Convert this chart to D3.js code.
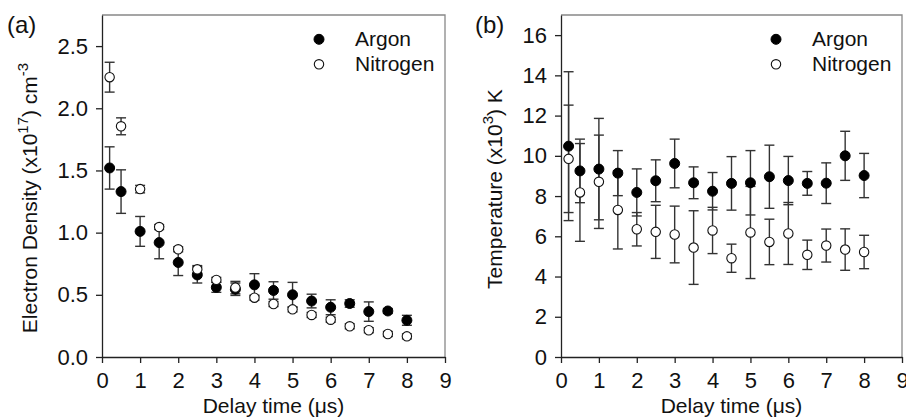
<!DOCTYPE html>
<html>
<head>
<meta charset="utf-8">
<script src="https://cdn.jsdelivr.net/npm/d3@7"></script>
<style>
  body { margin: 0; background: #fff; }
  svg { font-family: "Liberation Sans", Arial, sans-serif; }
  .axis path, .axis line { stroke: #222; stroke-width: 1.3; }
  .axis text { font-size: 22px; fill: #111; }
  .frame { stroke: #888; stroke-width: 1.3; fill: none; }
  .errbar { stroke: #333; stroke-width: 1.4; }
  .argon { fill: #000; stroke: #000; stroke-width: 1; }
  .nitrogen { fill: #fff; stroke: #111; stroke-width: 1.1; }
  .label { font-size: 21px; fill: #111; }
  .legend { font-size: 21px; fill: #111; }
  .panel { font-size: 24px; fill: #111; }
</style>
</head>
<body>
<svg width="906" height="418"></svg>
<script>
// delay times (us)
var delay = [0.2, 0.5, 1, 1.5, 2, 2.5, 3, 3.5, 4, 4.5, 5, 5.5, 6, 6.5, 7, 7.5, 8];

// (a) electron density, x10^17 cm^-3
var densityArgon     = [1.52, 1.33, 1.01, 0.92, 0.76, 0.66, 0.56, 0.545, 0.58, 0.535, 0.50, 0.45, 0.40, 0.43, 0.365, 0.37, 0.295];
var densityArgonErr  = [0.17, 0.175, 0.12, 0.13, 0.105, 0.065, 0.04, 0.05, 0.09, 0.07, 0.10, 0.055, 0.06, 0.03, 0.078, 0.02, 0.04];
var densityNitrogen    = [2.25, 1.855, 1.35, 1.045, 0.866, 0.705, 0.62, 0.558, 0.477, 0.426, 0.383, 0.338, 0.30, 0.247, 0.215, 0.185, 0.166];
var densityNitrogenErr = [0.12, 0.068, 0.03, 0.02, 0.02, 0.03, 0.02, 0.05, 0.02, 0.02, 0.02, 0.02, 0.02, 0.02, 0.02, 0.02, 0.02];

// (b) temperature, x10^3 K
var tempArgon     = [10.48, 9.25, 9.34, 9.14, 8.18, 8.76, 9.62, 8.66, 8.24, 8.63, 8.66, 8.96, 8.77, 8.63, 8.64, 10.0, 9.02];
var tempArgonErr  = [3.7, 1.58, 2.52, 1.12, 1.17, 1.04, 1.21, 0.79, 0.93, 1.33, 1.6, 1.57, 1.2, 0.59, 1.01, 1.22, 1.1];
var tempNitrogen    = [9.85, 8.18, 8.71, 7.31, 6.35, 6.22, 6.09, 5.44, 6.29, 4.91, 6.19, 5.72, 6.14, 5.08, 5.54, 5.34, 5.22];
var tempNitrogenErr = [2.67, 2.43, 2.32, 1.94, 0.83, 1.32, 1.41, 1.83, 1.15, 0.7, 2.29, 1.13, 1.54, 0.73, 0.82, 1.03, 0.83];

var xTicks = [0, 1, 2, 3, 4, 5, 6, 7, 8, 9];
var densityTicks = [0, 0.5, 1.0, 1.5, 2.0, 2.5];
var tempTicks = [0, 2, 4, 6, 8, 10, 12, 14, 16];
var seriesNames = ["Argon", "Nitrogen"];

var svg = d3.select("svg");

function drawPanel(p) {
    var g = svg.append("g").attr("transform", "translate(" + p.left + ",15)");
    var width = p.width, height = 342;

    var xScale = d3.scaleLinear().domain([0, 9]).range([0, width]);
    var yScale = d3.scaleLinear().domain(p.yDomain).range([height, 0]);

    // frame top/right
    g.append("path").attr("class", "frame")
        .attr("d", "M0,0H" + width + "V" + height);

    g.append("g").attr("class", "axis")
        .attr("transform", "translate(0," + height + ")")
        .call(d3.axisBottom(xScale).tickValues(xTicks).tickSize(6).tickSizeOuter(0).tickPadding(8))
        .call(a => a.selectAll("text").attr("dy", "0.75em"));

    g.append("g").attr("class", "axis")
        .call(d3.axisLeft(yScale).tickValues(p.yTicks).tickFormat(p.yFormat).tickSize(6).tickSizeOuter(0).tickPadding(8));

    var series = [
        {name: "Argon", cls: "argon", v: p.argon, e: p.argonErr},
        {name: "Nitrogen", cls: "nitrogen", v: p.nitrogen, e: p.nitrogenErr}
    ];

    // error bars
    series.forEach(function(s) {
        var bars = g.append("g").selectAll(".eb")
            .data(delay.map((d, i) => ({x: d, y: s.v[i], e: s.e[i]})))
            .enter().append("g");
        bars.append("line").attr("class", "errbar")
            .attr("x1", d => xScale(d.x)).attr("x2", d => xScale(d.x))
            .attr("y1", d => yScale(d.y - d.e)).attr("y2", d => yScale(d.y + d.e));
        [-1, 1].forEach(function(sign) {
            bars.append("line").attr("class", "errbar")
                .attr("x1", d => xScale(d.x) - 5).attr("x2", d => xScale(d.x) + 5)
                .attr("y1", d => yScale(d.y + sign * d.e)).attr("y2", d => yScale(d.y + sign * d.e));
        });
    });

    series.forEach(function(s) {
        g.append("g").selectAll("circle")
            .data(delay.map((d, i) => ({x: d, y: s.v[i]})))
            .enter().append("circle")
            .attr("class", s.cls)
            .attr("cx", d => xScale(d.x))
            .attr("cy", d => yScale(d.y))
            .attr("r", s.cls === "argon" ? 5 : 4.7);
    });

    // legend
    var leg = g.append("g").attr("transform", "translate(" + (width - 126) + ",24.3)");
    series.forEach(function(s, i) {
        leg.append("circle").attr("class", s.cls)
            .attr("cx", 0).attr("cy", i * 25).attr("r", s.cls === "argon" ? 5 : 4.7);
        leg.append("text").attr("class", "legend")
            .attr("x", 36).attr("y", i * 25 + 7).text(seriesNames[i]);
    });

    // axis titles
    g.append("text").attr("class", "label")
        .attr("x", width / 2).attr("y", height + 56)
        .attr("text-anchor", "middle").text("Delay time (\u03bcs)");

    var yl = g.append("text").attr("class", "label")
        .attr("transform", "translate(" + p.yLabelX + "," + (height / 2 + p.yLabelDy) + ") rotate(-90)")
        .attr("text-anchor", "middle");
    p.yLabel.forEach(function(part) {
        yl.append("tspan")
            .attr("font-size", part.sup ? "15px" : null)
            .attr("dy", part.sup ? -9 : (part.after ? 9 : 0))
            .text(part.t);
    });

    svg.append("text").attr("class", "panel")
        .attr("x", p.left - p.panelDx).attr("y", 33).text(p.panel);
}

drawPanel({
    left: 102, width: 343, yDomain: [0, 2.75], yTicks: densityTicks,
    yFormat: d3.format(".1f"),
    argon: densityArgon, argonErr: densityArgonErr,
    nitrogen: densityNitrogen, nitrogenErr: densityNitrogenErr,
    yLabelX: -65, yLabelDy: 12, panel: "(a)", panelDx: 95,
    yLabel: [{t: "Electron Density (x10"}, {t: "17", sup: true}, {t: ") cm", after: true}, {t: "-3", sup: true}]
});

drawPanel({
    left: 561, width: 341, yDomain: [0, 17], yTicks: tempTicks,
    yFormat: d3.format("d"),
    argon: tempArgon, argonErr: tempArgonErr,
    nitrogen: tempNitrogen, nitrogenErr: tempNitrogenErr,
    yLabelX: -59, yLabelDy: 3, panel: "(b)", panelDx: 86,
    yLabel: [{t: "Temperature (x10"}, {t: "3", sup: true}, {t: ") K", after: true}]
});
</script>
</body>
</html>
